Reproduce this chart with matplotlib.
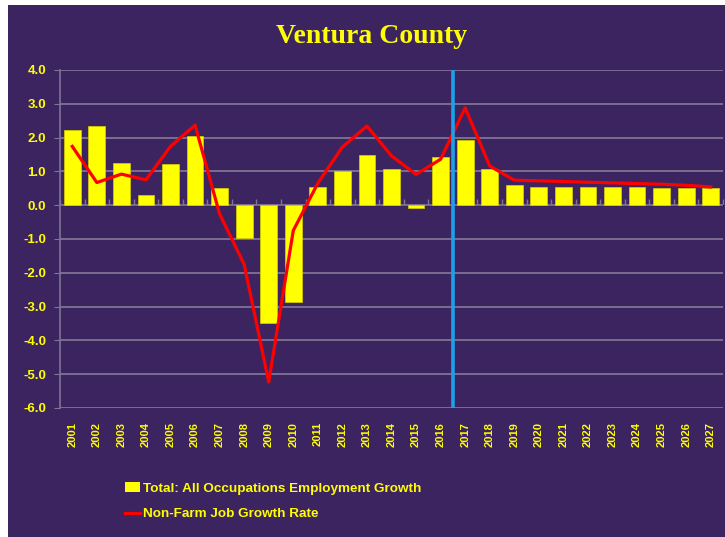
import matplotlib.pyplot as plt
import matplotlib.patches as mpatches
from matplotlib.lines import Line2D
import numpy as np

# values
years = [str(y) for y in range(2001, 2028)]
occupations_growth = [2.23, 2.35, 1.24, 0.29, 1.22, 2.05, 0.50, -0.96, -3.50, -2.87,
                      0.54, 1.00, 1.48, 1.06, -0.08, 1.43, 1.92, 1.06, 0.60, 0.55,
                      0.53, 0.53, 0.55, 0.53, 0.50, 0.50, 0.51]
nonfarm_growth = [1.74, 0.67, 0.92, 0.75, 1.74, 2.37, -0.26, -1.75, -5.23, -0.75,
                  0.65, 1.72, 2.34, 1.46, 0.91, 1.36, 2.88, 1.16, 0.74, 0.72,
                  0.70, 0.68, 0.66, 0.64, 0.62, 0.59, 0.54]
forecast_start = 15.5  # between 2016 and 2017

bg = '#3c2460'
yellow = '#ffff00'
grid_c = '#7f7493'

fig = plt.figure(figsize=(7.25, 5.37), dpi=100)
fig.patch.set_facecolor('white')
fig.patches.append(mpatches.Rectangle((8 / 725, 0), 1, 1 - 5 / 537, transform=fig.transFigure,
                                      facecolor=bg, edgecolor='none', zorder=-10))

ax = fig.add_axes([60 / 725, 129 / 537, 663 / 725, 338 / 537])
ax.set_facecolor(bg)

x = np.arange(len(years))
ax.bar(x, occupations_growth, width=0.68, color=yellow, edgecolor='#d8d000', linewidth=0.5,
       zorder=3, label='Total: All Occupations Employment Growth')
ax.plot(x, nonfarm_growth, color='#ff0000', linewidth=2.3, zorder=4,
        label='Non-Farm Job Growth Rate')
ax.axvline(forecast_start, color='#1ea0e6', linewidth=2.6, zorder=5)

ax.set_xlim(-0.5, len(years) - 0.5)
ax.set_ylim(-6, 4)
ax.set_yticks(np.arange(-6, 5, 1))
ax.yaxis.set_major_formatter(plt.FormatStrFormatter('%.1f'))
ax.grid(axis='y', color=grid_c, linewidth=1.3, zorder=0)
ax.set_axisbelow(True)

ax.set_xticks(x)
ax.set_xticklabels(years, rotation=90)
ax.tick_params(axis='x', length=0, pad=10, labelsize=8, labelcolor=yellow)
ax.tick_params(axis='y', length=4, color=grid_c, pad=6, labelsize=9.5, labelcolor=yellow)
for lab in ax.get_xticklabels() + ax.get_yticklabels():
    lab.set_fontweight('bold')
    lab.set_family('Liberation Sans')

for s in ['top', 'right', 'bottom']:
    ax.spines[s].set_visible(False)
ax.spines['left'].set_color(grid_c)
ax.spines['left'].set_linewidth(1.2)

# category axis crossing at zero with boundary ticks
zero_ax = ax.secondary_xaxis(0.6)
zero_ax.set_xticks(np.arange(-0.5, len(years), 1))
zero_ax.set_xticklabels([])
zero_ax.tick_params(axis='x', length=4, color=grid_c, width=1)
zero_ax.spines['bottom'].set_color(grid_c)
zero_ax.spines['bottom'].set_linewidth(1.3)

fig.text(0.513, 0.932, 'Ventura County', ha='center', va='center', color=yellow,
         fontsize=20, fontweight='bold', family='Liberation Serif')

handles = [mpatches.Patch(facecolor=yellow, edgecolor='none'),
           Line2D([0], [0], color='#ff0000', linewidth=2.3)]
leg = fig.legend(handles, ['Total: All Occupations Employment Growth', 'Non-Farm Job Growth Rate'],
                 loc='upper left', bbox_to_anchor=(113 / 725, 1 - 470 / 537), frameon=False,
                 labelcolor=yellow, handlelength=1.1, handletextpad=0.2, labelspacing=1.0,
                 prop={'weight': 'bold', 'size': 9.7, 'family': 'Liberation Sans'})

fig.savefig('out.png', dpi=100, facecolor=fig.get_facecolor())
